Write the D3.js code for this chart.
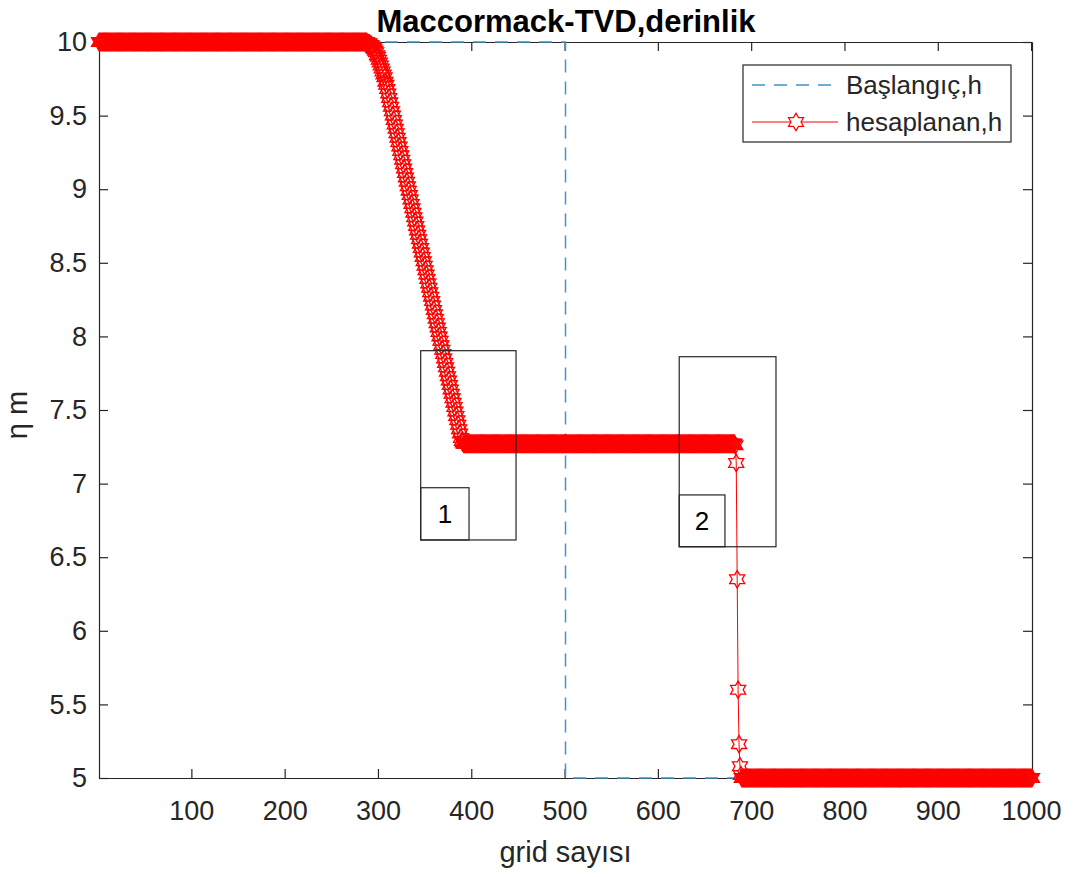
<!DOCTYPE html>
<html>
<head>
<meta charset="utf-8">
<script src="https://cdn.jsdelivr.net/npm/d3@7"></script>
<style>
  html, body { margin: 0; padding: 0; background: #ffffff; }
  svg { display: block; }
  text { font-family: "Liberation Sans", Arial, Helvetica, sans-serif; fill: #262626; }
</style>
</head>
<body>
<svg id="chart" width="1074" height="877"></svg>
<script>
// ---------------- DATA ----------------
const titleText = "Maccormack-TVD,derinlik";
const xLabelText = "grid sayısı";
const yLabelText = "η m";
const legendLabels = ["Başlangıç,h", "hesaplanan,h"];

const xTicks = [100, 200, 300, 400, 500, 600, 700, 800, 900, 1000];
const yTicks = [5, 5.5, 6, 6.5, 7, 7.5, 8, 8.5, 9, 9.5, 10];
const yTickLabels = ["5", "5.5", "6", "6.5", "7", "7.5", "8", "8.5", "9", "9.5", "10"];

// initial condition (dam break step)
const initX = [1, 501, 501, 1001];
const initH = [10, 10, 5, 5];

// computed depth: constant runs (grid index ranges) + transition values
const runStart = [1, 393, 690];
const runEnd = [285, 682, 1001];
const runValue = [10, 7.27, 5];

const rarefactionStart = 286;
const rarefactionValues = [
  10.00, 10.00, 10.00, 9.99, 9.99, 9.99, 9.98, 9.98, 9.97, 9.96,
  9.95, 9.94, 9.93, 9.91, 9.90, 9.88, 9.86, 9.84, 9.82, 9.80,
  9.78, 9.76, 9.73, 9.71, 9.68, 9.65, 9.62, 9.59, 9.56, 9.53,
  9.50, 9.47, 9.44, 9.41, 9.38, 9.35, 9.32, 9.29, 9.26, 9.23,
  9.20, 9.17, 9.14, 9.11, 9.08, 9.05, 9.02, 8.99, 8.96, 8.93,
  8.90, 8.87, 8.84, 8.81, 8.78, 8.75, 8.72, 8.69, 8.66, 8.63,
  8.60, 8.57, 8.54, 8.51, 8.48, 8.45, 8.42, 8.39, 8.36, 8.33,
  8.30, 8.27, 8.24, 8.21, 8.18, 8.15, 8.12, 8.09, 8.06, 8.03,
  8.00, 7.97, 7.94, 7.91, 7.88, 7.85, 7.82, 7.79, 7.76, 7.73,
  7.70, 7.67, 7.64, 7.61, 7.58, 7.55, 7.52, 7.49, 7.46, 7.43,
  7.40, 7.37, 7.34, 7.31, 7.29, 7.28, 7.27
];

const shockStart = 683;
const shockValues = [7.26, 7.14, 6.35, 5.60, 5.23, 5.08, 5.02];

// annotation boxes (data coordinates)
const boxLabels = ["1", "2"];
const boxX0 = [345.8, 622.9];
const boxX1 = [448.0, 726.6];
const boxY0 = [6.617, 6.571];
const boxY1 = [7.903, 7.862];
const tagX1 = [397.6, 671.9];
const tagY1 = [6.972, 6.923];

// ---------------- BUILD SERIES ----------------
const computed = [];
runStart.forEach((s, k) => { for (let i = s; i <= runEnd[k]; i++) computed.push({ x: i, h: runValue[k] }); });
rarefactionValues.forEach((v, k) => computed.push({ x: rarefactionStart + k, h: v }));
shockValues.forEach((v, k) => computed.push({ x: shockStart + k, h: v }));
computed.sort((a, b) => a.x - b.x);
const initial = initX.map((xv, k) => ({ x: xv, h: initH[k] }));

// ---------------- LAYOUT ----------------
const svg = d3.select("#chart");
const mLeft = 99, mRight = 1032, mTop = 42, mBottom = 778;
const axisColor = "#262626";
const tickFont = 27;

const x = d3.scaleLinear().domain([1, 1001]).range([mLeft, mRight]);
const y = d3.scaleLinear().domain([5, 10]).range([mBottom, mTop]);

// hexagram path
function hexagram(R) {
  const r = R / Math.sqrt(3);
  const pts = [];
  for (let k = 0; k < 12; k++) {
    const a = (-90 + k * 30) * Math.PI / 180;
    const rad = (k % 2 === 0) ? R : r;
    pts.push([rad * Math.cos(a), rad * Math.sin(a)]);
  }
  return "M" + pts.map(p => p[0].toFixed(2) + "," + p[1].toFixed(2)).join("L") + "Z";
}
const starPath = hexagram(8.7);

// ---------------- AXES ----------------
const gx = svg.append("g").attr("transform", `translate(0,${mBottom})`)
  .call(d3.axisBottom(x).tickValues(xTicks).tickSizeInner(-9).tickSizeOuter(0).tickPadding(23).tickFormat(d3.format("d")));
const gxt = svg.append("g").attr("transform", `translate(0,${mTop})`)
  .call(d3.axisTop(x).tickValues(xTicks).tickSizeInner(-9).tickSizeOuter(0).tickFormat(""));
const gy = svg.append("g").attr("transform", `translate(${mLeft},0)`)
  .call(d3.axisLeft(y).tickValues(yTicks).tickSizeInner(-9).tickSizeOuter(0).tickPadding(12)
    .tickFormat((d, i) => yTickLabels[i]));
const gyr = svg.append("g").attr("transform", `translate(${mRight},0)`)
  .call(d3.axisRight(y).tickValues(yTicks).tickSizeInner(-9).tickSizeOuter(0).tickFormat(""));

[gx, gxt, gy, gyr].forEach(g => {
  g.selectAll("path.domain").attr("stroke", axisColor).attr("stroke-width", 1.2);
  g.selectAll(".tick line").attr("stroke", axisColor).attr("stroke-width", 1.2);
  g.selectAll(".tick text").attr("fill", axisColor).style("font-size", tickFont + "px")
    .style("font-family", "'Liberation Sans', Arial, Helvetica, sans-serif");
});

// ---------------- SERIES ----------------
const lineGen = d3.line().x(d => x(d.x)).y(d => y(d.h));

svg.append("path").datum(initial)
  .attr("d", lineGen)
  .attr("fill", "none")
  .attr("stroke", "#3d95c9")
  .attr("stroke-width", 1.5)
  .attr("stroke-dasharray", "13,9");

svg.append("path").datum(computed)
  .attr("d", lineGen)
  .attr("fill", "none")
  .attr("stroke", "#ff0000")
  .attr("stroke-width", 1);

svg.append("g").selectAll("path").data(computed).join("path")
  .attr("d", starPath)
  .attr("transform", d => `translate(${x(d.x)},${y(d.h)})`)
  .attr("fill", "none")
  .attr("stroke", "#ff0000")
  .attr("stroke-width", 1.3);

// ---------------- ANNOTATIONS ----------------
const ann = svg.append("g");
boxLabels.forEach((lab, k) => {
  ann.append("rect")
    .attr("x", x(boxX0[k])).attr("y", y(boxY1[k]))
    .attr("width", x(boxX1[k]) - x(boxX0[k])).attr("height", y(boxY0[k]) - y(boxY1[k]))
    .attr("fill", "none").attr("stroke", "#262626").attr("stroke-width", 1.2);
  ann.append("rect")
    .attr("x", x(boxX0[k])).attr("y", y(tagY1[k]))
    .attr("width", x(tagX1[k]) - x(boxX0[k])).attr("height", y(boxY0[k]) - y(tagY1[k]))
    .attr("fill", "none").attr("stroke", "#262626").attr("stroke-width", 1.2);
  ann.append("text")
    .attr("x", (x(boxX0[k]) + x(tagX1[k])) / 2)
    .attr("y", (y(tagY1[k]) + y(boxY0[k])) / 2)
    .attr("dy", "0.36em")
    .attr("text-anchor", "middle")
    .style("font-size", "26px")
    .style("fill", "#000")
    .text(lab);
});

// ---------------- TEXT ----------------
svg.append("text")
  .attr("x", 566).attr("y", 32)
  .attr("text-anchor", "middle")
  .style("font-size", "31px").style("font-weight", "bold")
  .style("fill", "#000")
  .text(titleText);

svg.append("text")
  .attr("x", (mLeft + mRight) / 2).attr("y", 862)
  .attr("text-anchor", "middle")
  .style("font-size", "29px")
  .text(xLabelText);

svg.append("text")
  .attr("transform", `translate(27,415) rotate(-90)`)
  .attr("text-anchor", "middle")
  .style("font-size", "29px")
  .text(yLabelText);

// ---------------- LEGEND ----------------
const lg = svg.append("g");
lg.append("rect")
  .attr("x", 743).attr("y", 65).attr("width", 268).attr("height", 77)
  .attr("fill", "#ffffff").attr("stroke", "#262626").attr("stroke-width", 1.2);
const rowsY = [85, 122];
lg.append("line").attr("x1", 752).attr("x2", 838).attr("y1", rowsY[0]).attr("y2", rowsY[0])
  .attr("stroke", "#3d95c9").attr("stroke-width", 1.5).attr("stroke-dasharray", "13,9");
lg.append("line").attr("x1", 752).attr("x2", 838).attr("y1", rowsY[1]).attr("y2", rowsY[1])
  .attr("stroke", "#ff0000").attr("stroke-width", 1);
lg.append("path").attr("d", starPath).attr("transform", `translate(796,${rowsY[1]})`)
  .attr("fill", "#ffffff").attr("stroke", "#ff0000").attr("stroke-width", 1.2);
legendLabels.forEach((t, k) => {
  lg.append("text").attr("x", 846).attr("y", rowsY[k]).attr("dy", "0.35em")
    .style("font-size", "26px").text(t);
});
</script>
</body>
</html>
